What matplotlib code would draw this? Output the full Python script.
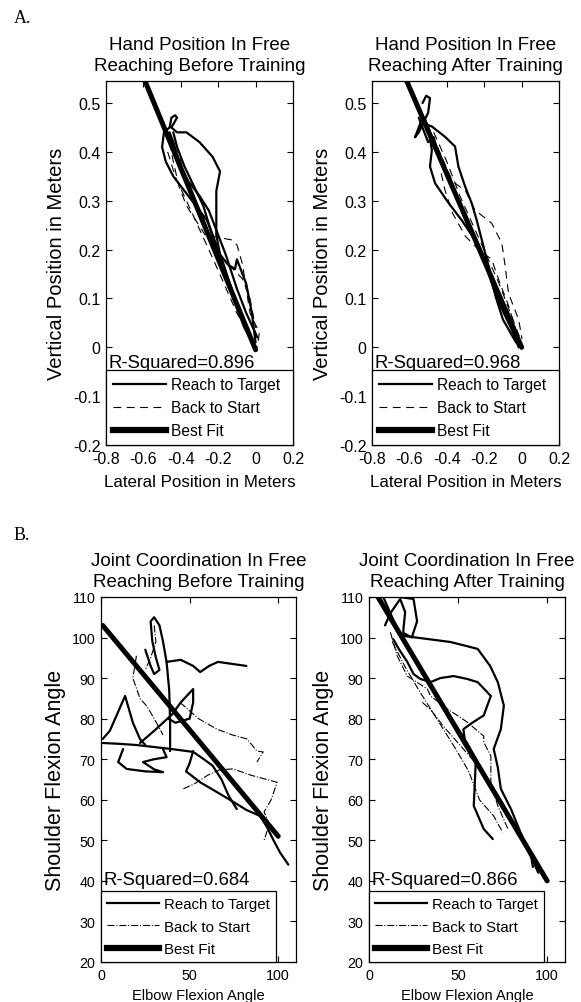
import numpy as np
import matplotlib
matplotlib.use('Agg')
import matplotlib.pyplot as plt
from matplotlib.lines import Line2D

plt.rcParams['font.family'] = ['Liberation Sans', 'DejaVu Sans']

# ---- panel A: hand position (meters) ----
before_reach = [
    [(0.0, 0.01), (-0.02, 0.07), (-0.05, 0.13), (-0.08, 0.16), (-0.10, 0.18), (-0.11, 0.16),
     (-0.15, 0.17), (-0.19, 0.19), (-0.21, 0.23), (-0.21, 0.28), (-0.21, 0.32), (-0.19, 0.36),
     (-0.23, 0.39), (-0.30, 0.42), (-0.37, 0.44), (-0.42, 0.44), (-0.45, 0.45)],
    [(0.0, 0.0), (-0.06, 0.05), (-0.12, 0.11), (-0.18, 0.18), (-0.24, 0.24), (-0.28, 0.29),
     (-0.33, 0.33), (-0.38, 0.37), (-0.42, 0.41), (-0.44, 0.44)],
    [(0.01, 0.02), (-0.05, 0.07), (-0.10, 0.12), (-0.16, 0.19), (-0.22, 0.25), (-0.25, 0.28),
     (-0.30, 0.31), (-0.36, 0.34), (-0.40, 0.37), (-0.44, 0.42), (-0.46, 0.44)],
    [(-0.45, 0.45), (-0.42, 0.47), (-0.43, 0.475), (-0.45, 0.47), (-0.46, 0.45), (-0.49, 0.44),
     (-0.50, 0.41), (-0.48, 0.38), (-0.44, 0.35), (-0.40, 0.33), (-0.36, 0.31), (-0.30, 0.28),
     (-0.26, 0.26), (-0.24, 0.24), (-0.18, 0.17), (-0.12, 0.10), (-0.06, 0.04), (0.0, 0.0)],
]
before_back = [
    [(-0.46, 0.42), (-0.44, 0.38), (-0.41, 0.33), (-0.37, 0.29), (-0.32, 0.26), (-0.27, 0.23),
     (-0.20, 0.225), (-0.13, 0.22), (-0.10, 0.21), (-0.07, 0.17), (-0.05, 0.12), (-0.03, 0.07),
     (0.02, 0.03), (0.01, 0.0)],
    [(-0.47, 0.40), (-0.43, 0.35), (-0.37, 0.30), (-0.31, 0.25), (-0.25, 0.20), (-0.18, 0.14),
     (-0.10, 0.07), (-0.04, 0.03), (0.0, 0.0)],
    [(-0.44, 0.44), (-0.40, 0.38), (-0.34, 0.31), (-0.28, 0.25), (-0.20, 0.18), (-0.12, 0.16),
     (-0.07, 0.14), (-0.03, 0.10), (0.0, 0.04)],
]
after_reach = [
    [(-0.53, 0.50), (-0.51, 0.515), (-0.49, 0.51), (-0.50, 0.48), (-0.55, 0.44), (-0.57, 0.43),
     (-0.54, 0.46), (-0.48, 0.452), (-0.41, 0.431), (-0.356, 0.411), (-0.338, 0.37), (-0.303, 0.33),
     (-0.267, 0.295), (-0.24, 0.26), (-0.213, 0.22), (-0.16, 0.14), (-0.088, 0.071), (-0.016, 0.0)],
    [(-0.50, 0.45), (-0.48, 0.404), (-0.49, 0.37), (-0.463, 0.336), (-0.39, 0.295), (-0.32, 0.26),
     (-0.25, 0.22), (-0.177, 0.166), (-0.14, 0.105), (-0.10, 0.057), (-0.03, 0.01)],
    [(-0.52, 0.47), (-0.46, 0.41), (-0.40, 0.36), (-0.34, 0.30), (-0.28, 0.25), (-0.22, 0.20),
     (-0.17, 0.15), (-0.12, 0.09), (-0.07, 0.05), (0.0, 0.0)],
    [(-0.55, 0.47), (-0.52, 0.44), (-0.50, 0.42), (-0.47, 0.43), (-0.45, 0.40), (-0.42, 0.37),
     (-0.36, 0.32), (-0.30, 0.27), (-0.22, 0.20), (-0.15, 0.12), (-0.08, 0.06), (0.0, 0.0)],
]
after_back = [
    [(-0.45, 0.41), (-0.37, 0.34), (-0.30, 0.32), (-0.25, 0.281), (-0.16, 0.254), (-0.106, 0.213),
     (-0.088, 0.166), (-0.07, 0.11), (-0.016, 0.057), (0.002, 0.017)],
    [(-0.43, 0.356), (-0.41, 0.322), (-0.37, 0.275), (-0.30, 0.227), (-0.23, 0.20), (-0.16, 0.18),
     (-0.124, 0.14), (-0.07, 0.085), (-0.016, 0.017)],
    [(-0.47, 0.44), (-0.40, 0.38), (-0.33, 0.31), (-0.26, 0.25), (-0.19, 0.19), (-0.12, 0.13),
     (-0.06, 0.07), (-0.01, 0.02)],
]
fit_before_a = (-0.93, -0.005)
fit_after_a = (-0.887, 0.0)
fit_range_a = (-0.62, 0.0)

# ---- panel B: joint angles (degrees) ----
before_reach_b = [
    [(39, 72), (39, 79), (38.5, 87), (37, 94), (35, 99), (33, 103), (30, 105), (28, 104),
     (29, 99), (31, 95), (33, 92), (30, 91), (28, 93), (25, 97)],
    [(37, 94), (45, 94.5), (52, 93), (56, 91.5), (61, 93), (66, 94), (74, 93.5), (82, 93)],
    [(1, 75), (5, 77), (9, 81), (13.6, 85.6), (16, 82), (18, 79), (22, 75), (25, 73.5)],
    [(1, 74), (10, 73.8), (20, 73.5), (30, 73), (40, 72.5), (52, 71.8), (58, 70), (63, 68.4),
     (68, 65), (72, 61), (76.6, 57.7)],
    [(12.5, 72.5), (9.7, 69.3), (14.5, 67.6), (25, 67), (35, 66.8), (30, 67.5), (23.7, 69.3),
     (30, 70), (37, 70.5), (35, 72.5)],
    [(52, 72), (50, 69), (48, 67), (56, 64.3), (65, 62), (74.6, 59.5), (82, 57.5), (89.8, 56),
     (94, 53), (97, 50.3), (101, 47), (105.7, 44)],
    [(22, 74), (30, 77), (40, 81), (45, 84), (52, 87.3), (52, 84), (50, 80), (42, 79), (38, 80)],
]
before_back_b = [
    [(20, 95.5), (18, 90), (22, 85), (26, 83), (30, 80), (35, 76)],
    [(44.6, 84), (55, 80), (65.5, 77.4), (74, 76), (82.4, 75), (88, 72), (91.5, 71.8), (88, 69.3)],
    [(46.5, 62.7), (53, 64), (60, 66), (67, 67.4), (74.6, 67.6), (85, 66), (99.4, 64.3), (96, 60),
     (92, 57), (95, 54), (92, 50)],
    [(30, 103), (31, 99), (28, 95), (25, 92)],
]
after_reach_b = [
    [(9, 103), (12, 106), (17.5, 109.5), (20.3, 106.3), (19.3, 102), (19.3, 100.4), (30, 99.8),
     (45.8, 98.9), (61, 97.2), (68, 93), (72.3, 89), (75.7, 83.2), (74, 77.4), (70, 72.5),
     (72.3, 68), (74, 62.7), (79.7, 57.7), (85, 52), (91, 46.2), (92, 43.4)],
    [(13.6, 99.6), (17, 97), (21.5, 94), (25, 91), (28.8, 89.8), (34.5, 89), (40, 90), (47.5, 90.5),
     (55, 89.8), (61, 89), (68.4, 85.6), (64.4, 80.8), (58, 79), (53, 77.4), (54, 74), (60, 70),
     (58.8, 58.5), (64.4, 52.8), (69.5, 50.3)],
    [(8, 110), (15, 103), (25, 95), (35, 88), (45, 81), (55, 74), (65, 66), (75, 59), (85, 51),
     (92, 45), (95, 42)],
    [(17, 110), (25, 109.5), (27, 104), (24, 100), (20, 101)],
]
after_back_b = [
    [(12, 101.3), (15.8, 95.5), (21.5, 90.5), (32.8, 87.3), (34.5, 85.6), (44, 82.4), (55, 79.2),
     (64.4, 75.7), (64.4, 74.2), (68.4, 70.8), (68.4, 64.3), (72.3, 58.5), (78, 52.8)],
    [(13, 99), (20, 93), (28, 87), (38, 80), (48, 73), (56, 67), (62, 60), (70, 56), (75, 52)],
    [(30, 84), (35, 82), (42, 78), (50, 74), (58, 70), (63, 68)],
]
fit_before_b = (-0.525, 103.5)
fit_range_before_b = (1, 100)
fit_after_b = (-0.737, 113.7)
fit_range_after_b = (3, 100)

titles = ['Hand Position In Free\nReaching Before Training',
          'Hand Position In Free\nReaching After Training',
          'Joint Coordination In Free\nReaching Before Training',
          'Joint Coordination In Free\nReaching After Training']
r2_values = [0.896, 0.968, 0.684, 0.866]
legend_labels = ['Reach to Target', 'Back to Start', 'Best Fit']

xticks_a = [-0.8, -0.6, -0.4, -0.2, 0, 0.2]
xticklabels_a = ['-0.8', '-0.6', '-0.4', '-0.2', '0', '0.2']
yticks_a = [-0.2, -0.1, 0, 0.1, 0.2, 0.3, 0.4, 0.5]
yticklabels_a = ['-0.2', '-0.1', '0', '0.1', '0.2', '0.3', '0.4', '0.5']
xticks_b = [0, 50, 100]
yticks_b = [20, 30, 40, 50, 60, 70, 80, 90, 100, 110]

fig = plt.figure(figsize=(5.81, 10.03), dpi=100)
axA1 = fig.add_axes([0.1824, 0.5553, 0.3219, 0.3629])
axA2 = fig.add_axes([0.6403, 0.5553, 0.3219, 0.3629])
axB1 = fig.add_axes([0.1738, 0.0399, 0.3356, 0.3639])
axB2 = fig.add_axes([0.6351, 0.0399, 0.3373, 0.3639])

dash_a = (0, (7, 5))
dash_b = '-.'


def draw(ax, reach, back, fit, frange, back_style):
    for tr in reach:
        a = np.array(tr)
        ax.plot(a[:, 0], a[:, 1], color='black', lw=1.6, solid_capstyle='round')
    for tr in back:
        a = np.array(tr)
        ax.plot(a[:, 0], a[:, 1], color='black', lw=0.8, linestyle=back_style)
    xs = np.array(frange)
    ax.plot(xs, np.polyval(fit, xs), color='black', lw=3.6, solid_capstyle='round')


def style(ax, title, r2, back_style, tick_fs, leg_expand, leg_fs):
    ax.set_title(title, fontsize=13.5, pad=8, linespacing=1.3)
    ax.tick_params(direction='in', top=True, right=True, length=4, width=0.8,
                   labelsize=tick_fs, pad=4)
    for s in ax.spines.values():
        s.set_linewidth(0.9)
    handles = [Line2D([], [], color='black', lw=1.6),
               Line2D([], [], color='black', lw=0.8, linestyle=back_style),
               Line2D([], [], color='black', lw=4.5)]
    if leg_expand:
        leg = ax.legend(handles, legend_labels, loc='lower left', bbox_to_anchor=(0, 0, 1, 0.2),
                        mode='expand', borderaxespad=0, fontsize=leg_fs, handlelength=3.4,
                        handletextpad=0.3, labelspacing=0.5, borderpad=0.45, fancybox=False,
                        framealpha=1, edgecolor='black')
    else:
        leg = ax.legend(handles, legend_labels, loc='lower left', bbox_to_anchor=(0, 0),
                        borderaxespad=0, fontsize=leg_fs, handlelength=3.5,
                        handletextpad=0.3, labelspacing=0.55, borderpad=0.4, fancybox=False,
                        framealpha=1, edgecolor='black')
    leg.get_frame().set_linewidth(0.9)
    ax.text(0.015, 0.215, 'R-Squared=%.3f' % r2, transform=ax.transAxes, fontsize=13.3,
            va='baseline', ha='left')


draw(axA1, before_reach, before_back, fit_before_a, fit_range_a, dash_a)
draw(axA2, after_reach, after_back, fit_after_a, fit_range_a, dash_a)
draw(axB1, before_reach_b, before_back_b, fit_before_b, fit_range_before_b, dash_b)
draw(axB2, after_reach_b, after_back_b, fit_after_b, fit_range_after_b, dash_b)

for ax, t, r2 in zip([axA1, axA2], titles[:2], r2_values[:2]):
    ax.set_xlim(-0.8, 0.2)
    ax.set_ylim(-0.2, 0.545)
    ax.set_xticks(xticks_a)
    ax.set_xticklabels(xticklabels_a)
    ax.set_yticks(yticks_a)
    ax.set_yticklabels(yticklabels_a)
    style(ax, t, r2, dash_a, 11.5, True, 11.2)
    ax.set_xlabel('Lateral Position in Meters', fontsize=12.2, labelpad=6)
    ax.set_ylabel('Vertical Position in Meters', fontsize=14.5, labelpad=5)

for ax, t, r2 in zip([axB1, axB2], titles[2:], r2_values[2:]):
    ax.set_xlim(0, 110)
    ax.set_ylim(20, 110)
    ax.set_xticks(xticks_b)
    ax.set_yticks(yticks_b)
    style(ax, t, r2, dash_b, 10.3, False, 10.8)
    ax.set_xlabel('Elbow Flexion Angle', fontsize=10.5, labelpad=5)
    ax.set_ylabel('Shoulder Flexion Angle', fontsize=15.5, labelpad=4)

fig.text(0.024, 0.982, 'A.', family='Liberation Serif', fontsize=13, va='center')
fig.text(0.024, 0.466, 'B.', family='Liberation Serif', fontsize=13, va='center')

fig.savefig('out.png', dpi=100, facecolor='white')
